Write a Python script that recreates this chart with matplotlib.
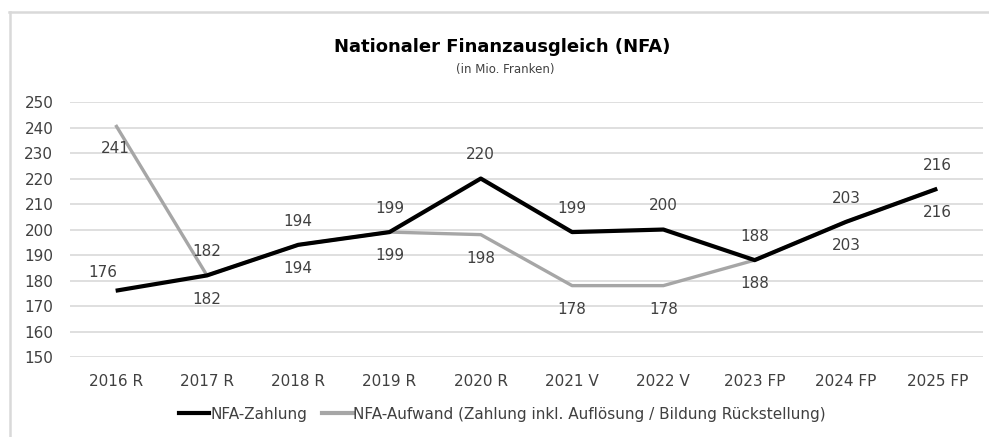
import matplotlib
matplotlib.use('Agg')
import matplotlib.pyplot as plt
from matplotlib.lines import Line2D

# data
jahre = ['2016 R', '2017 R', '2018 R', '2019 R', '2020 R',
         '2021 V', '2022 V', '2023 FP', '2024 FP', '2025 FP']
zahlung = [176, 182, 194, 199, 220, 199, 200, 188, 203, 216]
aufwand = [241, 182, 194, 199, 198, 178, 178, 188, 203, 216]
# which series label goes above the point (True = black above)
schwarz_oben = [True, False, True, True, True, True, True, True, True, True]

schwarz = '#000000'
grau = '#a6a6a6'
txt = '#404040'

fig = plt.figure(figsize=(9.89, 4.37), dpi=100)
ax = fig.add_axes([0.0708, 0.183, 0.923, 0.5835])

x = range(len(jahre))
ax.plot(x, aufwand, color=grau, lw=2.4, zorder=3, solid_capstyle='butt')
ax.plot(x, zahlung, color=schwarz, lw=3, zorder=4, solid_capstyle='butt')

for i in x:
    if schwarz_oben[i]:
        off_z, off_a = 17, -17
    else:
        off_z, off_a = -17, 17
    dx = 0
    if i == 0:
        off_z, dx = 13, -9   # 176 sits a bit lower and to the left
    ax.annotate(str(zahlung[i]), (i, zahlung[i]), xytext=(dx, off_z),
                textcoords='offset points', ha='center', va='center',
                fontsize=11, color=txt, zorder=5)
    ax.annotate(str(aufwand[i]), (i, aufwand[i]), xytext=(0, off_a),
                textcoords='offset points', ha='center', va='center',
                fontsize=11, color=txt, zorder=5)

ax.set_xlim(-0.5, len(jahre) - 0.5)
ax.set_ylim(150, 250)
ax.set_yticks(range(150, 251, 10))
ax.set_xticks(list(x))
ax.set_xticklabels(jahre)
ax.tick_params(length=0, labelsize=11, labelcolor=txt)
ax.tick_params(axis='x', pad=12)
ax.tick_params(axis='y', pad=12)
ax.grid(axis='y', color='#d9d9d9', lw=1.2)
ax.set_axisbelow(True)
for s in ax.spines.values():
    s.set_visible(False)

fig.text(0.508, 0.892, 'Nationaler Finanzausgleich (NFA)', ha='center', va='center',
         fontsize=13, fontweight='bold', color='#000000')
fig.text(0.511, 0.84, '(in Mio. Franken)', ha='center', va='center',
         fontsize=8.5, color=txt)

handles = [Line2D([], [], color=schwarz, lw=3),
           Line2D([], [], color=grau, lw=3)]
fig.legend(handles, ['NFA-Zahlung',
                     'NFA-Aufwand (Zahlung inkl. Auflösung / Bildung Rückstellung)'],
           loc='center', bbox_to_anchor=(0.508, 0.052), ncol=2, frameon=False,
           fontsize=11, handlelength=2.0, handletextpad=0.05, columnspacing=1.0,
           labelcolor=txt)

# outer border (top and left visible)
fig.add_artist(Line2D([0.0095, 1.0], [0.9725, 0.9725], transform=fig.transFigure,
                      color='#d9d9d9', lw=1.8))
fig.add_artist(Line2D([0.0100, 0.0100], [0.0, 0.9725], transform=fig.transFigure,
                      color='#d9d9d9', lw=1.8))

fig.savefig('out.png', dpi=100)
